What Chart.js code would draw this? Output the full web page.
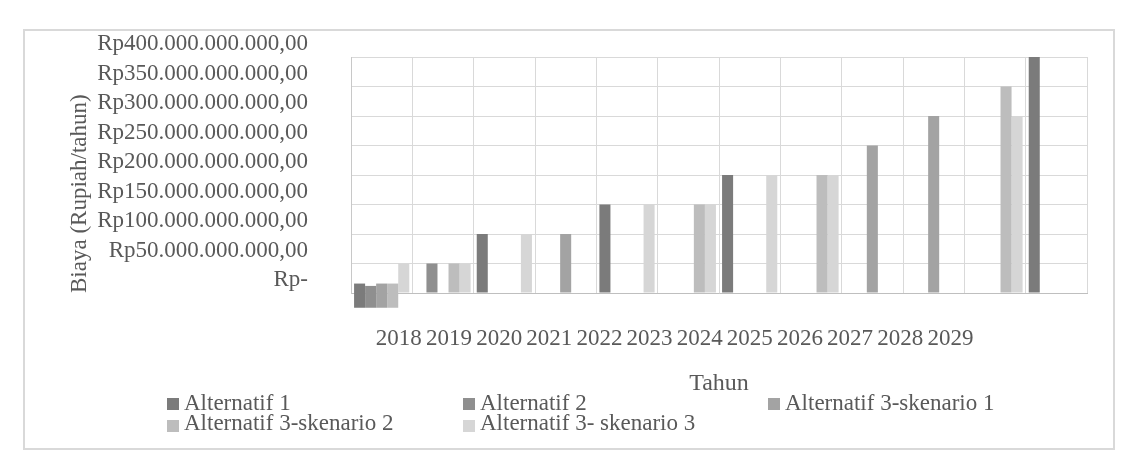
<!DOCTYPE html>
<html>
<head>
<meta charset="utf-8">
<script src="https://cdn.jsdelivr.net/npm/chart.js@4.4.0/dist/chart.umd.min.js"></script>
<style>
html,body{margin:0;padding:0;background:#fff;}
#wrap{position:relative;width:1133px;height:467px;overflow:hidden;}
#frame{position:absolute;left:23px;top:29px;width:1088px;height:417px;border:2px solid #d9d9d9;}
#c{position:absolute;left:0;top:0;}
.lg{position:absolute;font-family:"Liberation Serif","Times New Roman","DejaVu Serif",serif;font-size:23px;line-height:23px;color:#595959;white-space:nowrap;}
.sw{position:absolute;width:12px;height:12px;}
</style>
</head>
<body>
<div id="wrap">
  <div id="frame"></div>
  <canvas id="c" width="1133" height="467"></canvas>
  <div id="legend"></div>
</div>
<script>
// ---- data (Rupiah per year) ----
const years = ['2018','2019','2020','2021','2022','2023','2024','2025','2026','2027','2028','2029'];
const seriesNames = ['Alternatif 1','Alternatif 2','Alternatif 3-skenario 1','Alternatif 3-skenario 2','Alternatif 3- skenario 3'];
const seriesColors = ['#7b7b7b','#8f8f8f','#a3a3a3','#bdbdbd','#d6d6d6'];
const alternatif1 = [[-25e9,16e9], null, 100e9, null, 150e9, null, 200e9, null, null, null, null, 400e9];
const alternatif2 = [[-25e9,12e9], 50e9, null, null, null, null, null, null, null, null, null, null];
const skenario1   = [[-25e9,16e9], null, null, 100e9, null, null, null, null, 250e9, 300e9, null, null];
const skenario2   = [[-25e9,16e9], 50e9, null, null, null, 150e9, null, 200e9, null, null, 350e9, null];
const skenario3   = [50e9, 50e9, 100e9, null, 150e9, 150e9, 200e9, 200e9, null, null, 300e9, null];
const seriesData = [alternatif1, alternatif2, skenario1, skenario2, skenario3];
const yTickStep = 50e9, yMax = 400e9;

const FONT = '"Liberation Serif", "Times New Roman", "DejaVu Serif", serif';
const TXT = '#595959';
function fmtRp(v){
  if (v === 0) return 'Rp-';
  return 'Rp' + String(Math.round(v)).replace(/\B(?=(\d{3})+(?!\d))/g, '.') + ',00';
}

const datasets = seriesNames.map((name, i) => ({
  label: name,
  data: seriesData[i],
  backgroundColor: seriesColors[i],
  borderWidth: 0,
  barPercentage: 1,
  categoryPercentage: 0.9,
  clip: false
}));

new Chart(document.getElementById('c'), {
  type: 'bar',
  data: { labels: years, datasets },
  options: {
    responsive: false,
    animation: false,
    layout: { padding: { top: 57, right: 46, bottom: 71, left: 0 } },
    plugins: { legend: { display: false }, tooltip: { enabled: false } },
    scales: {
      x: {
        type: 'category',
        offset: true,
        ticks: { display: false },
        grid: { color: '#d9d9d9', offset: true, drawTicks: false },
        border: { color: '#bfbfbf' },
        afterFit: s => { s.height = 0; }
      },
      x2: {
        type: 'linear',
        position: 'bottom',
        min: -0.43,
        max: 13.2,
        grid: { display: false, drawTicks: false },
        border: { display: false },
        ticks: {
          stepSize: 1, includeBounds: false, autoSkip: false, maxRotation: 0, minRotation: 0,
          padding: 32, color: TXT, font: { family: FONT, size: 23 },
          callback: v => (Number.isInteger(v) && years[v] !== undefined) ? years[v] : ''
        },
        title: { display: true, text: 'Tahun', color: TXT, font: { family: FONT, size: 24, lineHeight: 1 }, padding: { top: 0, bottom: 0 } },
        afterFit: s => { s.height = 103; }
      },
      y: {
        min: 0,
        max: yMax,
        ticks: {
          stepSize: yTickStep, autoSkip: false, padding: 43, labelOffset: -13,
          color: TXT, font: { family: FONT, size: 23 },
          callback: v => fmtRp(v)
        },
        grid: { color: '#d9d9d9', drawTicks: false },
        border: { color: '#c8c8c8' },
        title: { display: true, text: 'Biaya (Rupiah/tahun)', align: 'start', color: TXT, font: { family: FONT, size: 23, lineHeight: 1 }, padding: { top: 68, bottom: 0 } },
        afterFit: s => { s.width = 351; }
      }
    }
  }
});

// ---- legend (grid layout like the original) ----
const lg = document.getElementById('legend');
const cols = [167, 463, 768];
const rows = [{top: 391, sw: 398}, {top: 411, sw: 420}];
seriesNames.forEach((name, i) => {
  const r = rows[Math.floor(i / 3)], c = cols[i % 3];
  const sw = document.createElement('div');
  sw.className = 'sw';
  sw.style.left = c + 'px'; sw.style.top = r.sw + 'px';
  sw.style.background = seriesColors[i];
  lg.appendChild(sw);
  const t = document.createElement('div');
  t.className = 'lg';
  t.style.left = (c + 17) + 'px'; t.style.top = r.top + 'px';
  t.textContent = name;
  lg.appendChild(t);
});
</script>
</body>
</html>
